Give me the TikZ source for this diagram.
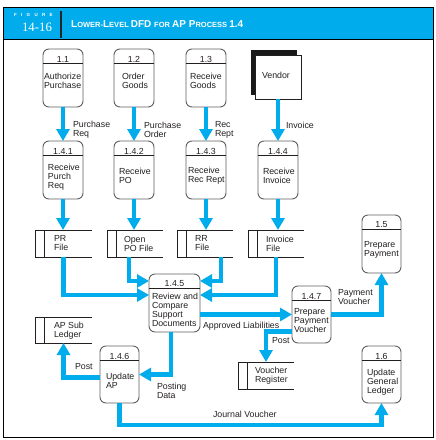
\documentclass[tikz,border=0pt]{standalone}
\usepackage{fontspec}
\setmainfont{Liberation Sans}
\newfontfamily\seriffont{Liberation Serif}
\usetikzlibrary{arrows.meta}
\definecolor{dfdblue}{RGB}{0,172,236}
\definecolor{ink}{RGB}{35,31,32}
\definecolor{boxgray}{RGB}{95,95,95}
\tikzset{
 flow/.style={draw=dfdblue, line width=4.6pt, line join=miter, -{Triangle[width=13pt,length=12pt]}},
 procbox/.style={draw=boxgray, line width=0.9pt, rounded corners=6pt, fill=white, inner sep=0pt, outer sep=0pt},
 procline/.style={draw=ink, line width=0.8pt},
 storebox/.style={inner sep=0pt, outer sep=0pt},
 storeline/.style={draw=ink, line width=0.8pt},
 lbl/.style={inner sep=0pt, outer sep=0pt, text=ink, font=\fontsize{8.8}{9}\selectfont, align=left},
}
\newcommand\dfdproc[6]{%
 \node[procbox,minimum width=#4pt,minimum height=#5pt,anchor=north west] (#1) at (#2,#3) {};
 \draw[procline] ([yshift=-14.5pt]#1.north west) -- ([yshift=-14.5pt]#1.north east);
 \node[lbl] (#1n) at ([yshift=-10pt]#1.north) {#6};
}
\newcommand\dfdstore[5]{%
 \node[storebox,minimum width=#4pt,minimum height=#5pt,anchor=north west] (#1) at (#2,#3) {};
 \draw[storeline] (#1.north east) -- (#1.north west) -- (#1.south west) -- (#1.south east);
 \draw[storeline] ([xshift=9pt]#1.north west) -- ([xshift=9pt]#1.south west);
}
\begin{document}
\begin{tikzpicture}[x=1pt,y=-1pt]
\useasboundingbox (0,0) rectangle (436,440);
% frame and header
\fill[dfdblue] (3,7) rectangle (433,39);
\draw[line width=0.9pt] (3,7) rectangle (433,437);
\draw[line width=1pt] (3,39) -- (433,39);
\draw[line width=1.6pt, black!85] (61,11) -- (61,38);
\node[anchor=west, inner sep=0pt, text=white, font=\fontsize{4.5}{5}\bfseries\addfontfeatures{LetterSpace=95}\selectfont] (figlbl) at (14,14.7) {FIGURE};
\node[inner sep=0pt, text=white, font=\seriffont\fontsize{12.8}{13}\selectfont] (fignum) at (37,27) {14-16};
\node[anchor=west, inner sep=0pt, text=white, font=\bfseries] (title) at (71,24)
 {\fontsize{10}{10}\selectfont L\fontsize{7.5}{8}\selectfont OWER-\fontsize{10}{10}\selectfont L\fontsize{7.5}{8}\selectfont EVEL \fontsize{10}{10}\selectfont DFD \fontsize{7.5}{8}\selectfont FOR \fontsize{10}{10}\selectfont AP P\fontsize{7.5}{8}\selectfont ROCESS \fontsize{10}{10}\selectfont 1.4};
% processes
\dfdproc{p11}{43}{49}{40}{58}{1.1}
\dfdproc{p12}{114}{49}{40}{58}{1.2}
\dfdproc{p13}{186}{49}{40}{58}{1.3}
\dfdproc{p141}{43}{141}{40}{58}{1.4.1}
\dfdproc{p142}{114}{141}{40}{58}{1.4.2}
\dfdproc{p143}{186}{141}{40}{58}{1.4.3}
\dfdproc{p144}{258}{141}{40}{58}{1.4.4}
\dfdproc{p15}{362}{215}{39}{58}{1.5}
\dfdproc{p145}{149}{274}{51}{58}{1.4.5}
\dfdproc{p147}{292}{286}{39}{57}{1.4.7}
\dfdproc{p146}{100}{346}{39}{57}{1.4.6}
\dfdproc{p16}{362}{346}{39}{57}{1.6}
% vendor
\fill[black!90] (251,50) rectangle (297,95);
\node[draw=ink, fill=white, line width=0.8pt, inner sep=0pt, outer sep=0pt, minimum width=46pt, minimum height=44pt, anchor=north west] (vendor) at (255,55) {};
% stores
\dfdstore{prf}{35}{230}{57}{27}
\dfdstore{opo}{107}{230}{56}{27}
\dfdstore{rrf}{177}{230}{56}{27}
\dfdstore{invf}{248}{230}{56}{27}
\dfdstore{aps}{35}{317}{57}{26}
\dfdstore{vreg}{238}{362}{56}{27}
% texts in boxes
\node[lbl,anchor=west] (p11t) at (44,80.5) {Authorize\\Purchase};
\node[lbl,anchor=west] (p12t) at (122,80.5) {Order\\Goods};
\node[lbl,anchor=west] (p13t) at (190,80.5) {Receive\\Goods};
\node[lbl,anchor=west] (vent) at (262,75) {Vendor};
\node[lbl,anchor=west] (p141t) at (48,177) {Receive\\Purch\\Req};
\node[lbl,anchor=west] (p142t) at (119,175.5) {Receive\\PO};
\node[lbl,anchor=west] (p143t) at (188,175.5) {Receive\\Rec Rept};
\node[lbl,anchor=west] (p144t) at (263,175.5) {Receive\\Invoice};
\node[lbl,anchor=west] (prft) at (54,243.5) {PR\\File};
\node[lbl,anchor=west] (opot) at (124,243.5) {Open\\PO File};
\node[lbl,anchor=west] (rrft) at (195,243.5) {RR\\File};
\node[lbl,anchor=west] (invft) at (266,243.5) {Invoice\\File};
\node[lbl,anchor=west] (p15t) at (364,249.5) {Prepare\\Payment};
\node[lbl,anchor=west] (p145t) at (152,309.5) {Review and\\Compare\\Support\\Documents};
\node[lbl,anchor=west] (p147t) at (294,321) {Prepare\\Payment\\Voucher};
\node[lbl,anchor=west] (apst) at (54,330.5) {AP Sub\\Ledger};
\node[lbl,anchor=west] (p146t) at (106,380.5) {Update\\AP};
\node[lbl,anchor=west] (vregt) at (255,376) {Voucher\\Register};
\node[lbl,anchor=west] (p16t) at (367,382) {Update\\General\\Ledger};
% flow labels
\node[lbl,anchor=west] (l1) at (73,129.5) {Purchase\\Req};
\node[lbl,anchor=west] (l2) at (144,129.5) {Purchase\\Order};
\node[lbl,anchor=west] (l3) at (215,129.5) {Rec\\Rept};
\node[lbl,anchor=west] (l4) at (286,125) {Invoice};
\node[lbl,anchor=west] (l5) at (203,326) {Approved Liabilities};
\node[lbl,anchor=west] (l6) at (338,297.5) {Payment\\Voucher};
\node[lbl,anchor=west] (l7) at (272,341) {Post};
\node[lbl,anchor=west] (l8) at (157,390.5) {Posting\\Data};
\node[lbl,anchor=west] (l9) at (75,367) {Post};
\node[lbl,anchor=west] (l10) at (213,414) {Journal Voucher};
% flows
\draw[flow] (p11.south) -- (p141.north);
\draw[flow] (p12.south) -- (p142.north);
\draw[flow] (p13.south) -- (p143.north);
\draw[flow] (vendor.south) -- (vendor.south |- p144.north);
\draw[flow] (p141.south) -- (p141.south |- prf.north);
\draw[flow] (p142.south) -- (p142.south |- opo.north);
\draw[flow] (p143.south) -- (p143.south |- rrf.north);
\draw[flow] (p144.south) -- (p144.south |- invf.north);
\draw[flow] (prf.south) |- ([yshift=8pt]p145.west);
\draw[flow] ([xshift=-6pt]opo.south) |- ([yshift=22pt]p145.west);
\draw[flow] ([xshift=16pt]rrf.south) |- ([yshift=22pt]p145.east);
\draw[flow] (invf.south) |- ([yshift=8pt]p145.east);
\draw[flow] (p145.east |- p147.west) -- (p147.west);
\draw[flow] (p147.east) -| (p15.south);
\draw[flow] ([yshift=-17pt]p147.west) -| (vreg.north);
\draw[flow] ([xshift=-3.5pt]p145.south) |- (p146.east);
\draw[flow] ([yshift=-3pt]p146.west) -| (aps.south);
\draw[flow] (p146.south) -- ++(0,22) -| (p16.south);
\end{tikzpicture}
\end{document}
